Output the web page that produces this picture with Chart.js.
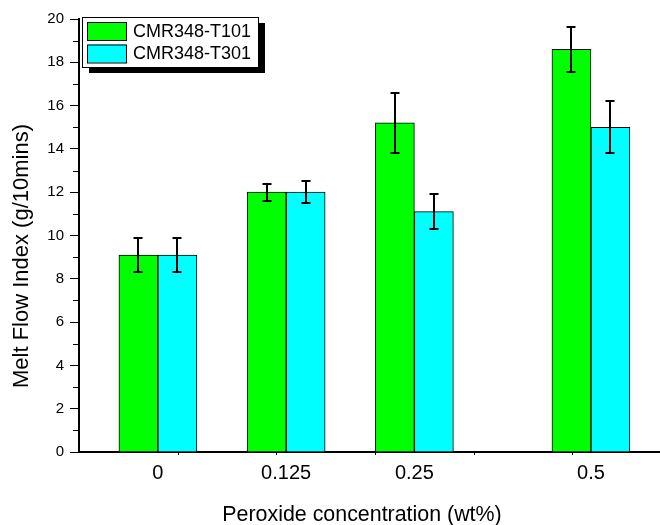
<!DOCTYPE html>
<html>
<head>
<meta charset="utf-8">
<script src="https://cdn.jsdelivr.net/npm/chart.js@4.4.0/dist/chart.umd.min.js"></script>
<style>
  html, body { margin: 0; padding: 0; background: #fff; overflow: hidden; }
  canvas { display: block; }
</style>
</head>
<body>
<canvas id="mfiChart" width="660" height="525"></canvas>
<script>
const concentrations = ['0', '0.125', '0.25', '0.5'];
const mfiT101 = [9.1, 12.0, 15.2, 18.6];
const errT101 = [0.78, 0.4, 1.38, 1.05];
const mfiT301 = [9.1, 12.0, 11.1, 15.0];
const errT301 = [0.78, 0.5, 0.8, 1.2];
const yTickValues = [0, 2, 4, 6, 8, 10, 12, 14, 16, 18, 20];
const xTitle = 'Peroxide concentration (wt%)';
const yTitle = 'Melt Flow Index (g/10mins)';

// x axis runs 0..6 (one minor tick per unit), groups sit at these slots
const groupSlot = [0.8, 2.1, 3.4, 5.19];
const FONT = 'Arial, "Liberation Sans", sans-serif';

function toPoints(values) {
    return values.map((v, i) => ({ x: groupSlot[i], y: v }));
}

const errorBars = {
    id: 'errorBars',
    afterDatasetsDraw(chart) {
        const ctx = chart.ctx;
        const yScale = chart.scales.y;
        ctx.save();
        ctx.strokeStyle = '#000';
        ctx.lineWidth = 2;
        chart.data.datasets.forEach((ds, i) => {
            chart.getDatasetMeta(i).data.forEach((bar, j) => {
                const v = ds.data[j].y;
                const e = ds.errors[j];
                const top = Math.round(yScale.getPixelForValue(v + e));
                const bot = Math.round(yScale.getPixelForValue(v - e));
                const x = Math.round(bar.x);
                ctx.beginPath();
                ctx.moveTo(x, top); ctx.lineTo(x, bot);
                ctx.moveTo(x - 4.5, top); ctx.lineTo(x + 4.5, top);
                ctx.moveTo(x - 4.5, bot); ctx.lineTo(x + 4.5, bot);
                ctx.stroke();
            });
        });
        ctx.restore();
    }
};

// short minor ticks between the labelled ones
const minorTicks = {
    id: 'minorTicks',
    afterDraw(chart) {
        const ctx = chart.ctx;
        const { x, y } = chart.scales;
        const area = chart.chartArea;
        ctx.save();
        ctx.strokeStyle = '#000';
        ctx.lineWidth = 1;
        ctx.beginPath();
        for (let v = 1; v < 20; v += 2) {
            const py = Math.round(y.getPixelForValue(v)) + 0.5;
            ctx.moveTo(area.left - 6, py);
            ctx.lineTo(area.left, py);
        }
        for (let v = 1; v <= 5; v++) {
            const px = Math.round(x.getPixelForValue(v)) + 0.5;
            ctx.moveTo(px, area.bottom);
            ctx.lineTo(px, area.bottom + 3);
        }
        ctx.stroke();
        ctx.restore();
    }
};

// axis titles, placed a little off-centre like the original plot
const axisTitles = {
    id: 'axisTitles',
    afterDraw(chart) {
        const ctx = chart.ctx;
        ctx.save();
        ctx.fillStyle = '#000';
        ctx.textAlign = 'center';
        ctx.textBaseline = 'middle';
        ctx.font = '21.4px ' + FONT;
        ctx.fillText(xTitle, 362, 515);
        ctx.translate(22, 256);
        ctx.rotate(-Math.PI / 2);
        ctx.font = '22px ' + FONT;
        ctx.fillText(yTitle, 0, 0);
        ctx.restore();
    }
};

// boxed legend with a drop shadow in the top-left corner of the plot
const boxLegend = {
    id: 'boxLegend',
    afterDraw(chart) {
        const ctx = chart.ctx;
        const bx = 82, by = 17, bw = 176, bh = 50;
        ctx.save();
        ctx.fillStyle = '#000';
        ctx.fillRect(bx + 7, by + 6, bw, bh);
        ctx.fillStyle = '#fff';
        ctx.fillRect(bx, by, bw, bh);
        ctx.strokeStyle = '#000';
        ctx.lineWidth = 1;
        ctx.strokeRect(bx + 0.5, by + 0.5, bw, bh);
        ctx.font = '18px ' + FONT;
        ctx.textBaseline = 'middle';
        chart.data.datasets.forEach((ds, i) => {
            const sy = by + 5 + i * 22.5;
            ctx.fillStyle = ds.backgroundColor;
            ctx.fillRect(87.5, sy, 39, 18);
            ctx.strokeStyle = '#000';
            ctx.strokeRect(87.5, sy + 0.5, 39, 18);
            ctx.fillStyle = '#000';
            ctx.fillText(ds.label, 133, sy + 10);
        });
        ctx.restore();
    }
};

new Chart(document.getElementById('mfiChart'), {
    type: 'bar',
    data: {
        datasets: [
            {
                label: 'CMR348-T101',
                data: toPoints(mfiT101),
                errors: errT101,
                backgroundColor: '#00ff00',
                borderColor: '#000',
                borderWidth: 1,
                borderSkipped: 'bottom'
            },
            {
                label: 'CMR348-T301',
                data: toPoints(mfiT301),
                errors: errT301,
                backgroundColor: '#00ffff',
                borderColor: '#000',
                borderWidth: 1,
                borderSkipped: 'bottom'
            }
        ]
    },
    options: {
        responsive: false,
        animation: false,
        barThickness: 39,
        layout: { padding: { left: 0, right: 0, top: 19, bottom: 0 } },
        plugins: {
            legend: { display: false },
            tooltip: { enabled: false }
        },
        scales: {
            x: {
                type: 'linear',
                offset: false,
                min: 0,
                max: 5.89,
                afterBuildTicks: (scale) => {
                    scale.ticks = groupSlot.map(v => ({ value: v }));
                },
                afterFit: (scale) => { scale.height = 73; },
                ticks: {
                    callback: (value, index) => concentrations[index],
                    color: '#000',
                    font: { family: FONT, size: 20 },
                    padding: 9,
                    maxRotation: 0
                },
                grid: { drawOnChartArea: false, drawTicks: false },
                border: { color: '#000', width: 2 }
            },
            y: {
                min: 0,
                max: 20,
                afterBuildTicks: (scale) => {
                    scale.ticks = yTickValues.map(v => ({ value: v }));
                },
                afterFit: (scale) => { scale.width = 79; },
                ticks: {
                    color: '#000',
                    font: { family: FONT, size: 15 },
                    padding: 6
                },
                grid: { drawOnChartArea: false, drawTicks: true, tickLength: 9, tickColor: '#000', tickWidth: 1 },
                border: { color: '#000', width: 2 }
            }
        }
    },
    plugins: [errorBars, minorTicks, axisTitles, boxLegend]
});
</script>
</body>
</html>
